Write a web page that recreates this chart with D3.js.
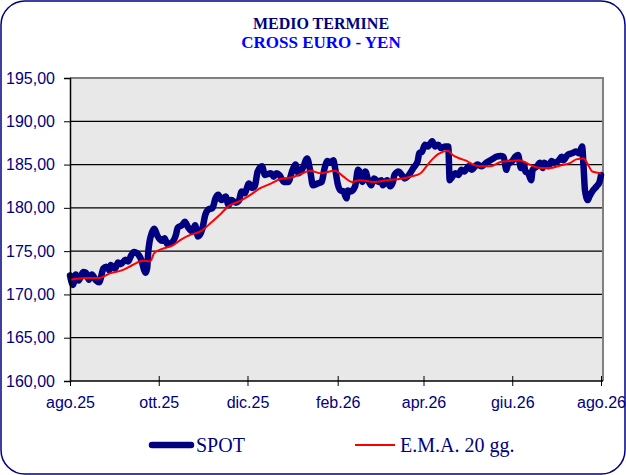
<!DOCTYPE html>
<html>
<head>
<meta charset="utf-8">
<script src="https://cdn.jsdelivr.net/npm/d3@7"></script>
<style>
  body { margin: 0; background: #fff; }
  svg { display: block; }
</style>
</head>
<body>
<div class="chart"></div>
<script>
// spot quotes
const spotDates = [
  "2025-08-01","2025-08-03","2025-08-05","2025-08-07","2025-08-10","2025-08-12","2025-08-14","2025-08-16",
  "2025-08-19","2025-08-21","2025-08-24","2025-08-26","2025-08-28","2025-08-29","2025-09-01","2025-09-03",
  "2025-09-05","2025-09-08","2025-09-10","2025-09-12","2025-09-14","2025-09-17","2025-09-19","2025-09-21",
  "2025-09-22","2025-09-23","2025-09-24","2025-09-27","2025-09-28","2025-09-30","2025-10-03","2025-10-05",
  "2025-10-07","2025-10-10","2025-10-13","2025-10-14","2025-10-17","2025-10-19","2025-10-21","2025-10-24",
  "2025-10-26","2025-10-28","2025-10-31","2025-11-02","2025-11-04","2025-11-07","2025-11-09","2025-11-11",
  "2025-11-13","2025-11-16","2025-11-18","2025-11-20","2025-11-23","2025-11-25","2025-11-27","2025-11-29",
  "2025-12-02","2025-12-04","2025-12-06","2025-12-08","2025-12-11","2025-12-13","2025-12-17","2025-12-19",
  "2025-12-21","2025-12-23","2025-12-26","2025-12-29","2026-01-01","2026-01-03","2026-01-05","2026-01-08",
  "2026-01-11","2026-01-13","2026-01-15","2026-01-18","2026-01-21","2026-01-23","2026-01-25","2026-01-27",
  "2026-01-29","2026-01-30","2026-02-01","2026-02-03","2026-02-05","2026-02-07","2026-02-08","2026-02-10",
  "2026-02-13","2026-02-15","2026-02-16","2026-02-18","2026-02-20","2026-02-22","2026-02-24","2026-02-26",
  "2026-03-01","2026-03-03","2026-03-04","2026-03-07","2026-03-09","2026-03-11","2026-03-12","2026-03-15",
  "2026-03-17","2026-03-19","2026-03-22","2026-03-25","2026-03-28","2026-03-29","2026-03-31","2026-04-02",
  "2026-04-04","2026-04-07","2026-04-09","2026-04-11","2026-04-13","2026-04-16","2026-04-18","2026-04-19",
  "2026-04-20","2026-04-23","2026-04-25","2026-04-27","2026-04-29","2026-05-02","2026-05-04","2026-05-08",
  "2026-05-11","2026-05-14","2026-05-17","2026-05-19","2026-05-21","2026-05-24","2026-05-26","2026-05-28",
  "2026-05-29","2026-06-01","2026-06-03","2026-06-05","2026-06-07","2026-06-09","2026-06-10","2026-06-12",
  "2026-06-14","2026-06-15","2026-06-18","2026-06-20","2026-06-22","2026-06-23","2026-06-26","2026-06-28",
  "2026-06-30","2026-07-03","2026-07-05","2026-07-06","2026-07-09","2026-07-12","2026-07-15","2026-07-17",
  "2026-07-19","2026-07-20","2026-07-21","2026-07-23","2026-07-24","2026-07-26","2026-07-29","2026-07-31",
  "2026-08-01"
];
const spotValues = [
  172.2,171.1,172.3,171.6,172.6,172.5,171.7,172.3,
  171.6,171.4,173.0,173.2,172.8,173.4,173.0,173.7,
  173.5,174.0,173.8,174.5,174.9,174.6,174.0,172.8,
  172.5,173.0,175.3,177.4,177.6,176.8,176.2,176.5,
  175.8,176.0,177.0,177.7,178.0,178.4,177.8,177.3,
  178.0,176.7,177.6,179.2,179.8,180.0,181.1,181.5,
  180.9,181.3,180.3,180.9,180.6,180.8,181.9,181.7,
  182.8,182.3,182.5,184.2,184.8,183.8,184.0,183.6,
  184.0,183.8,183.0,183.0,184.4,185.0,184.0,184.6,
  185.7,184.4,182.6,182.8,183.0,184.6,185.4,185.2,
  185.5,184.8,182.8,182.0,181.9,181.1,182.0,181.9,
  182.5,184.4,184.2,183.0,184.2,183.2,182.6,183.4,
  183.0,183.2,182.6,183.2,182.5,183.0,183.8,184.2,
  183.8,183.4,183.8,184.6,185.4,186.3,186.5,187.3,
  187.1,187.7,187.1,187.3,186.9,187.1,187.1,183.2,
  183.4,184.0,183.8,184.4,184.2,184.8,184.4,185.0,
  184.8,185.2,185.5,185.7,185.9,186.0,185.9,184.4,
  185.0,185.4,185.9,186.1,184.6,185.0,184.2,184.0,
  183.2,184.4,184.8,185.2,184.6,185.2,184.8,185.4,
  185.2,185.5,185.9,185.5,186.1,186.3,186.5,186.3,
  187.1,184.8,182.0,180.9,181.3,181.9,182.5,183.0,
  183.8
];

// 20-day EMA
const emaDates = [
  "2025-08-01","2025-08-12","2025-08-21","2025-08-28","2025-09-06","2025-09-13","2025-09-20","2025-09-25",
  "2025-09-28","2025-10-04","2025-10-11","2025-10-16","2025-10-23","2025-10-30","2025-11-06","2025-11-12",
  "2025-11-18","2025-11-26","2025-12-03","2025-12-10","2025-12-17","2025-12-23","2026-01-02","2026-01-08",
  "2026-01-13","2026-01-20","2026-01-30","2026-02-05","2026-02-11","2026-02-16","2026-02-26","2026-03-07",
  "2026-03-14","2026-03-23","2026-03-30","2026-04-03","2026-04-07","2026-04-11","2026-04-18","2026-04-21",
  "2026-04-26","2026-05-01","2026-05-05","2026-05-10","2026-05-17","2026-05-24","2026-05-30","2026-06-06",
  "2026-06-13","2026-06-20","2026-06-27","2026-07-04","2026-07-11","2026-07-15","2026-07-20","2026-07-23",
  "2026-07-26","2026-08-01"
];
const emaValues = [
  171.7,171.9,171.9,172.4,172.8,173.4,173.9,173.8,
  174.8,175.3,175.7,176.3,176.9,177.3,178.3,179.2,
  180.2,180.8,181.5,182.3,182.8,183.3,183.6,184.0,
  184.3,184.0,184.3,183.6,183.0,183.2,183.0,183.2,
  183.3,183.6,184.0,184.8,185.6,186.2,186.6,186.1,
  185.7,185.4,185.0,184.8,184.8,185.3,185.4,185.5,
  185.0,184.6,184.6,184.9,185.2,185.6,185.7,185.0,
  184.2,184.0
];

const yTicks = [160, 165, 170, 175, 180, 185, 190, 195];
const xTickDates = ["2025-08-01","2025-10-01","2025-12-01","2026-02-01","2026-04-01","2026-06-01","2026-08-01"];
const xTickLabels = ["ago.25","ott.25","dic.25","feb.26","apr.26","giu.26","ago.26"];
const seriesNames = ["SPOT", "E.M.A. 20 gg."];

const width = 626;
const height = 475;
const navy = "#000080";
const parse = d3.timeParse("%Y-%m-%d");

const svg = d3.select(".chart").append("svg")
  .attr("width", width)
  .attr("height", height);

// outer rounded frame
svg.append("rect")
  .attr("x", 1).attr("y", 1)
  .attr("width", width - 2).attr("height", height - 2)
  .attr("rx", 24).attr("ry", 24)
  .attr("fill", "#fff")
  .attr("stroke", navy)
  .attr("stroke-width", 1.5);

// titles
svg.append("text")
  .attr("x", 321).attr("y", 29)
  .attr("text-anchor", "middle")
  .style("font-family", "'Liberation Serif', 'Times New Roman', serif")
  .style("font-weight", "bold")
  .style("font-size", "16px")
  .style("fill", navy)
  .text("MEDIO  TERMINE");

svg.append("text")
  .attr("x", 321).attr("y", 48)
  .attr("text-anchor", "middle")
  .style("font-family", "'Liberation Serif', 'Times New Roman', serif")
  .style("font-weight", "bold")
  .style("font-size", "17px")
  .style("fill", "#0000ff")
  .text("CROSS EURO - YEN");

// scales
const x = d3.scaleTime()
  .domain([parse(xTickDates[0]), parse(xTickDates[xTickDates.length - 1])])
  .range([70, 601]);

const y = d3.scaleLinear()
  .domain([160, 195])
  .range([381, 78]);

const plotLeft = 70, plotRight = 603;

// plot background
svg.append("rect")
  .attr("x", plotLeft).attr("y", y(195))
  .attr("width", plotRight - plotLeft)
  .attr("height", y(160) - y(195))
  .attr("fill", "#e8e8e8");

// gridlines
svg.append("g")
  .selectAll("line")
  .data(yTicks.slice(1, -1))
  .enter().append("line")
  .attr("x1", plotLeft).attr("x2", plotRight)
  .attr("y1", d => y(d)).attr("y2", d => y(d))
  .attr("stroke", "#000")
  .attr("stroke-width", 1.3);

// gray top and right border
svg.append("path")
  .attr("d", `M${plotLeft},${y(195)}H${plotRight}V${y(160)}`)
  .attr("fill", "none")
  .attr("stroke", "#808080")
  .attr("stroke-width", 2);

// lines
const spot = spotDates.map((d, i) => ({ date: parse(d), value: spotValues[i] }));
const ema = emaDates.map((d, i) => ({ date: parse(d), value: emaValues[i] }));

const line = d3.line()
  .x(d => x(d.date))
  .y(d => y(d.value))
  .curve(d3.curveMonotoneX);

svg.append("path")
  .datum(spot)
  .attr("d", line)
  .attr("fill", "none")
  .attr("stroke", navy)
  .attr("stroke-width", 6.5)
  .attr("stroke-linejoin", "round")
  .attr("stroke-linecap", "round");

svg.append("path")
  .datum(ema)
  .attr("d", line)
  .attr("fill", "none")
  .attr("stroke", "#ff0000")
  .attr("stroke-width", 2);

// axes
const itLocale = d3.formatLocale({ decimal: ",", thousands: ".", grouping: [3], currency: ["", " €"] });

const yAxis = svg.append("g")
  .attr("transform", `translate(${plotLeft},0)`)
  .call(d3.axisLeft(y).tickValues(yTicks).tickFormat(itLocale.format(".2f")).tickSizeOuter(0).tickSize(6).tickPadding(9));
yAxis.select(".domain").attr("stroke", "#000").attr("stroke-width", 1.5);
yAxis.selectAll(".tick line").attr("stroke", "#000");
yAxis.selectAll("text")
  .style("font-family", "'Liberation Sans', Arial, sans-serif")
  .style("font-size", "16px")
  .style("fill", navy);

const xAxis = svg.append("g")
  .attr("transform", `translate(0,${y(160)})`)
  .call(d3.axisBottom(x)
    .tickValues(xTickDates.map(parse))
    .tickFormat((d, i) => xTickLabels[i])
    .tickSizeOuter(0).tickSize(5).tickPadding(11));
xAxis.select(".domain").attr("stroke", "#000").attr("stroke-width", 1.5)
  .attr("d", `M${plotLeft},0H${plotRight}`);
xAxis.selectAll(".tick line").attr("stroke", "#000").attr("y1", -5).attr("y2", 5);
xAxis.selectAll("text")
  .style("font-family", "'Liberation Sans', Arial, sans-serif")
  .style("font-size", "16px")
  .style("fill", navy);

// legend
const legend = svg.append("g")
  .style("font-family", "'Liberation Serif', 'Times New Roman', serif")
  .style("font-size", "20px")
  .style("fill", navy);

legend.append("line")
  .attr("x1", 152).attr("x2", 191).attr("y1", 445).attr("y2", 445)
  .attr("stroke", navy).attr("stroke-width", 6.5).attr("stroke-linecap", "round");
legend.append("text").attr("x", 196).attr("y", 452).text(seriesNames[0]);

legend.append("line")
  .attr("x1", 355).attr("x2", 395).attr("y1", 445).attr("y2", 445)
  .attr("stroke", "#ff0000").attr("stroke-width", 2);
legend.append("text").attr("x", 400).attr("y", 452).text(seriesNames[1]);
</script>
</body>
</html>
